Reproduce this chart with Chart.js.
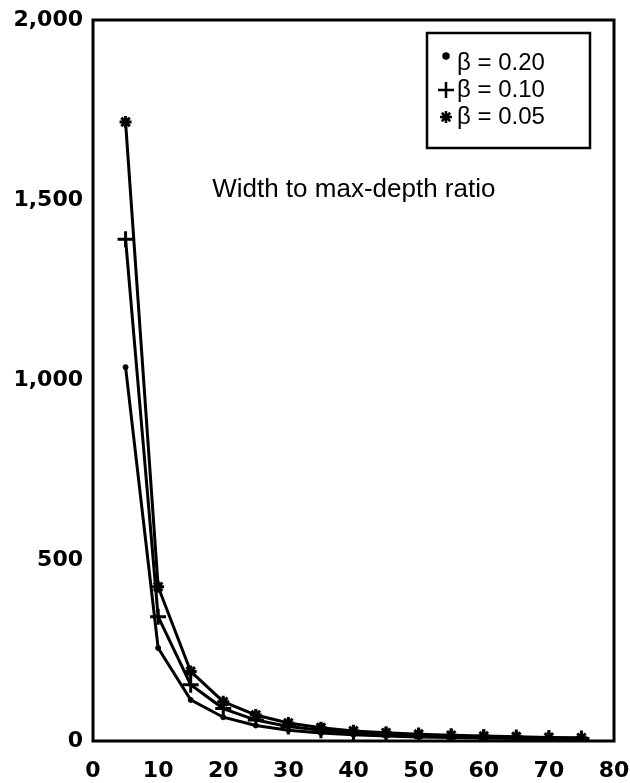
<!DOCTYPE html>
<html>
<head>
<meta charset="utf-8">
<script src="https://cdn.jsdelivr.net/npm/chart.js@4.4.1/dist/chart.umd.min.js"></script>
<style>
  body { margin: 0; background: #fff; }
  #wrap { width: 630px; height: 783px; }
</style>
</head>
<body>
<div id="wrap"><canvas id="myChart" width="630" height="783"></canvas></div>
<script>
// x values and the three series
const xValues = [5, 10, 15, 20, 25, 30, 35, 40, 45, 50, 55, 60, 65, 70, 75];
const beta020 = [1037, 258, 114, 66, 43, 30, 22, 17, 14, 11, 10, 8, 7, 6, 5];
const beta010 = [1392, 345, 156, 90, 58, 40, 30, 23, 18, 15, 13, 11, 10, 8, 7];
const beta005 = [1717, 428, 193, 109, 72, 50, 37, 28, 23, 19, 16, 14, 12, 10, 9];
const seriesLabels = ['\u03B2 = 0.20', '\u03B2 = 0.10', '\u03B2 = 0.05'];
const xTicks = [0, 10, 20, 30, 40, 50, 60, 70, 80];
const yTicks = [0, 500, 1000, 1500, 2000];
const noteText = 'Width to max-depth ratio';

function toPoints(ys) {
    return xValues.map((x, i) => ({ x: x, y: ys[i] }));
}

const tickFont = { family: 'DejaVu Sans', weight: 'bold', size: 22 };

// box around plot area, note text, legend box
const decorations = {
    id: 'decorations',
    afterDatasetsDraw(chart) {
        const ctx = chart.ctx;
        const a = chart.chartArea;
        ctx.save();
        ctx.strokeStyle = '#000';
        ctx.lineWidth = 3;
        ctx.strokeRect(a.left, a.top, a.right - a.left, a.bottom - a.top);

        // note
        ctx.fillStyle = '#000';
        ctx.font = '26px "Liberation Sans", Arial, sans-serif';
        ctx.textBaseline = 'middle';
        ctx.textAlign = 'left';
        const xs = chart.scales.x, ys = chart.scales.y;
        ctx.fillText(noteText, xs.getPixelForValue(18.3), ys.getPixelForValue(1530));

        // legend
        const bx = 427, by = 33, bw = 163, bh = 115;
        ctx.lineWidth = 2.5;
        ctx.strokeRect(bx, by, bw, bh);
        ctx.font = '24px "Liberation Sans", Arial, sans-serif';
        chart.data.datasets.forEach((ds, i) => {
            const ly = 63 + i * 27;
            const opts = {
                pointStyle: ds.pointStyle,
                radius: ds.pointRadius,
                borderWidth: ds.pointBorderWidth
            };
            ctx.strokeStyle = '#000';
            ctx.fillStyle = '#000';
            let my = ly;
            if (i === 0) my = ly - 7;
            Chart.helpers.drawPoint(ctx, opts, 446, my);
            ctx.fillStyle = '#000';
            ctx.fillText(ds.label, 457, ly);
        });
        ctx.restore();
    }
};

const chart = new Chart(document.getElementById('myChart'), {
    type: 'line',
    data: {
        datasets: [
            {
                label: seriesLabels[0],
                data: toPoints(beta020),
                borderColor: '#000',
                backgroundColor: '#000',
                borderWidth: 3,
                pointStyle: 'circle',
                pointRadius: 2.5,
                pointBorderWidth: 1
            },
            {
                label: seriesLabels[1],
                data: toPoints(beta010),
                borderColor: '#000',
                backgroundColor: '#000',
                borderWidth: 3,
                pointStyle: 'cross',
                pointRadius: 8,
                pointBorderWidth: 3
            },
            {
                label: seriesLabels[2],
                data: toPoints(beta005),
                borderColor: '#000',
                backgroundColor: '#000',
                borderWidth: 3,
                pointStyle: 'star',
                pointRadius: 6,
                pointBorderWidth: 3
            }
        ]
    },
    options: {
        responsive: false,
        animation: false,
        layout: { padding: { top: 20, right: 16, left: 0, bottom: 0 } },
        plugins: {
            legend: { display: false },
            tooltip: { enabled: false }
        },
        scales: {
            x: {
                type: 'linear',
                min: 0,
                max: 80,
                grid: { display: false, drawTicks: false, tickLength: 0 },
                border: { display: false },
                afterBuildTicks: (scale) => { scale.ticks = xTicks.map(v => ({ value: v })); },
                afterFit: (scale) => {
                    scale.height = 42;
                    scale.paddingLeft = 0;
                    scale.paddingRight = 0;
                },
                ticks: { color: '#000', font: tickFont, padding: 17, maxRotation: 0 }
            },
            y: {
                type: 'linear',
                min: 0,
                max: 2000,
                grid: { display: false, drawTicks: false, tickLength: 0 },
                border: { display: false },
                afterBuildTicks: (scale) => { scale.ticks = yTicks.map(v => ({ value: v })); },
                afterFit: (scale) => {
                    scale.width = 93;
                    scale.paddingTop = 0;
                    scale.paddingBottom = 0;
                },
                ticks: {
                    color: '#000',
                    font: tickFont,
                    padding: 10,
                    callback: (v) => v.toLocaleString('en-US')
                }
            }
        }
    },
    plugins: [decorations]
});
</script>
</body>
</html>
